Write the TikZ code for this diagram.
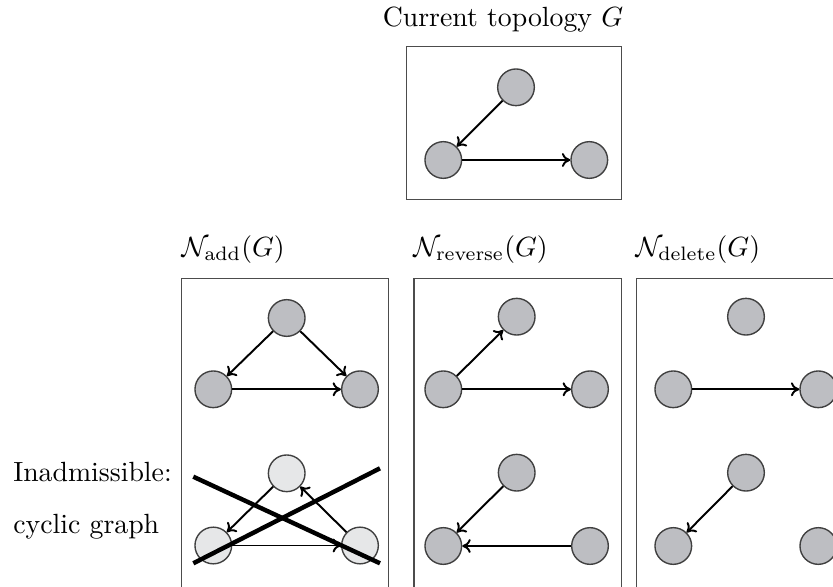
\documentclass[tikz,border=0pt]{standalone}
\usepackage{tikz}
\usetikzlibrary{arrows.meta}

\definecolor{nodegray}{RGB}{189,190,194}
\definecolor{nodelight}{RGB}{230,231,232}

\begin{document}
\begin{tikzpicture}[>={To[length=3pt,width=5pt]},x=0.36pt,y=-0.36pt]
  \tikzstyle{vert}=[circle,draw=black!75,fill=nodegray,inner sep=0pt,minimum size=13.2pt,line width=0.5pt]
  \tikzstyle{ghost}=[vert,fill=nodelight]
  \tikzstyle{panel}=[draw=black!70,line width=0.5pt]
  \tikzstyle{edge}=[line width=0.7pt,->]
  \tikzstyle{strike}=[line width=1.6pt,line cap=butt]
  \useasboundingbox (0,0) rectangle (833,587);
  \clip (0,0) rectangle (833,587);
  % current topology
  \node[anchor=base] (title) at (503,26.7) {Current topology $G$};
  \draw[panel] (406.7,46.7) rectangle (621.7,199.3);
  \node[vert] (gt) at (516,87.3) {};
  \node[vert] (gl) at (443.3,160) {};
  \node[vert] (gr) at (589.3,160) {};
  \draw[edge] (gt) -- (gl);
  \draw[edge] (gl) -- (gr);
  % neighbourhood labels
  \node[anchor=base west,inner sep=0pt] (addlab) at (181,256.7) {$\mathcal{N}_{\mathrm{add}}(G)$};
  \node[anchor=base west,inner sep=0pt] (revlab) at (412.7,256.7) {$\mathcal{N}_{\mathrm{reverse}}(G)$};
  \node[anchor=base west,inner sep=0pt] (dellab) at (635,256.7) {$\mathcal{N}_{\mathrm{delete}}(G)$};
  \node[anchor=base west,inner sep=0pt] (inadm) at (12.7,481.7) {Inadmissible:};
  \node[anchor=base west,inner sep=0pt] (cyclic) at (12.7,533.3) {cyclic graph};
  % add
  \draw[panel] (181.7,278.3) rectangle (388.3,620);
  \node[vert] (at) at (286.7,318) {};
  \node[vert] (al) at (213.3,389.3) {};
  \node[vert] (ar) at (360,389.3) {};
  \draw[edge] (at) -- (al);
  \draw[edge] (at) -- (ar);
  \draw[edge] (al) -- (ar);
  \node[ghost] (bt) at (286.7,473.3) {};
  \node[ghost] (bl) at (213.3,545.5) {};
  \node[ghost] (br) at (360,545.5) {};
  \draw[edge] (bt) -- (bl);
  \draw[edge] (br) -- (bt);
  \draw[edge] (bl) -- (br);
  \coordinate (x1) at (193.3,476.7);
  \coordinate (x2) at (380,563.3);
  \coordinate (x3) at (193.3,563.3);
  \coordinate (x4) at (380,468.3);
  \draw[strike] (x1) -- (x2);
  \draw[strike] (x3) -- (x4);
  % reverse
  \draw[panel] (414,278.3) rectangle (621.7,620);
  \node[vert] (rt) at (516.7,316.7) {};
  \node[vert] (rl) at (443.3,389.3) {};
  \node[vert] (rr) at (590,389.3) {};
  \draw[edge] (rl) -- (rt);
  \draw[edge] (rl) -- (rr);
  \node[vert] (st) at (516.7,472.7) {};
  \node[vert] (sl) at (443.3,546) {};
  \node[vert] (sr) at (590,546) {};
  \draw[edge] (st) -- (sl);
  \draw[edge] (sr) -- (sl);
  % delete
  \draw[panel] (636.7,278.3) rectangle (844.4,620);
  \node[vert] (dt) at (746,316.7) {};
  \node[vert] (dl) at (673.3,389.3) {};
  \node[vert] (dr) at (818.3,389.3) {};
  \draw[edge] (dl) -- (dr);
  \node[vert] (et) at (746,472.7) {};
  \node[vert] (el) at (673.3,546) {};
  \node[vert] (er) at (818.3,546) {};
  \draw[edge] (et) -- (el);
\end{tikzpicture}
\end{document}
